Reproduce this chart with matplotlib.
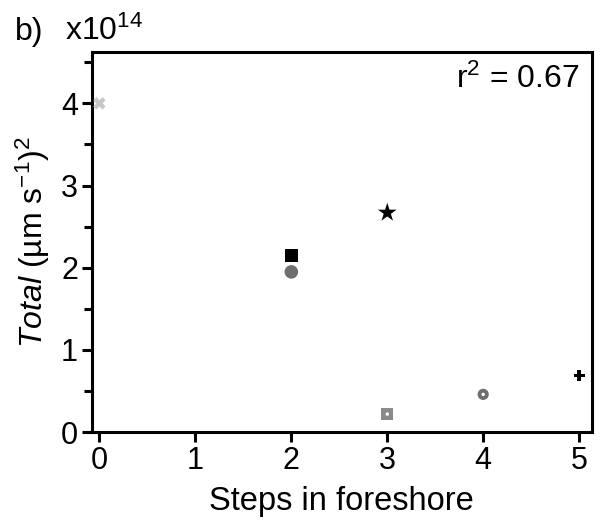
import matplotlib
matplotlib.use("Agg")
import matplotlib.pyplot as plt

plt.rcParams["font.family"] = "Liberation Sans"
plt.rcParams["mathtext.fontset"] = "custom"
plt.rcParams["mathtext.rm"] = "Liberation Sans"
plt.rcParams["mathtext.it"] = "Liberation Sans:italic"

# data (units of 1e14)
steps = [0, 2, 2, 3, 3, 4, 5]
total = [4.0, 2.15, 1.95, 2.67, 0.22, 0.46, 0.69]
markers = ["X", "s", "o", "*", "s", "o", "P"]
colors = ["#c8c8c8", "#000000", "#6e6e6e", "#000000", "#8a8a8a", "#6e6e6e", "#000000"]
sizes = [80, 85, 95, 200, 80, 65, 65]
inner_dot = [False, False, False, False, True, True, False]

FS = 23

fig = plt.figure(figsize=(6, 5.29), dpi=100)
ax = fig.add_axes([0.153, 0.183, 0.833, 0.718])

for x, y, m, c, s, d in zip(steps, total, markers, colors, sizes, inner_dot):
    ax.scatter([x], [y], marker=m, s=s, color=c, edgecolors="none", zorder=3)
    if d:
        ax.scatter([x], [y], marker="o", s=6, color="white", edgecolors="none", zorder=4)

ax.set_xlim(-0.08, 5.13)
ax.set_ylim(0, 4.62)
ax.set_xticks([0, 1, 2, 3, 4, 5])
ax.set_yticks([0, 1, 2, 3, 4])
ax.set_yticks([0.5, 1.5, 2.5, 3.5, 4.5], minor=True)

for sp in ax.spines.values():
    sp.set_linewidth(2.2)
ax.tick_params(which="both", direction="out", width=2.2, labelsize=22, pad=3)
ax.tick_params(which="major", length=7)
ax.tick_params(which="minor", length=6)

ax.set_xlabel("Steps in foreshore", fontsize=23.5, labelpad=7)
ax.set_ylabel(r"$\mathit{Total}$ (µm s$^{\mathregular{-1}}$)$^{\mathregular{2}}$", fontsize=FS, labelpad=6)

ax.text(0.975, 0.97, r"r$^{\mathregular{2}}$ = 0.67", transform=ax.transAxes,
        ha="right", va="top", fontsize=FS)
fig.text(0.025, 0.94, "b)", fontsize=FS, va="center")
fig.text(0.108, 0.94, r"x10$^{\mathregular{14}}$", fontsize=FS, va="center")

fig.savefig("out.png", dpi=100)
plt.close(fig)
